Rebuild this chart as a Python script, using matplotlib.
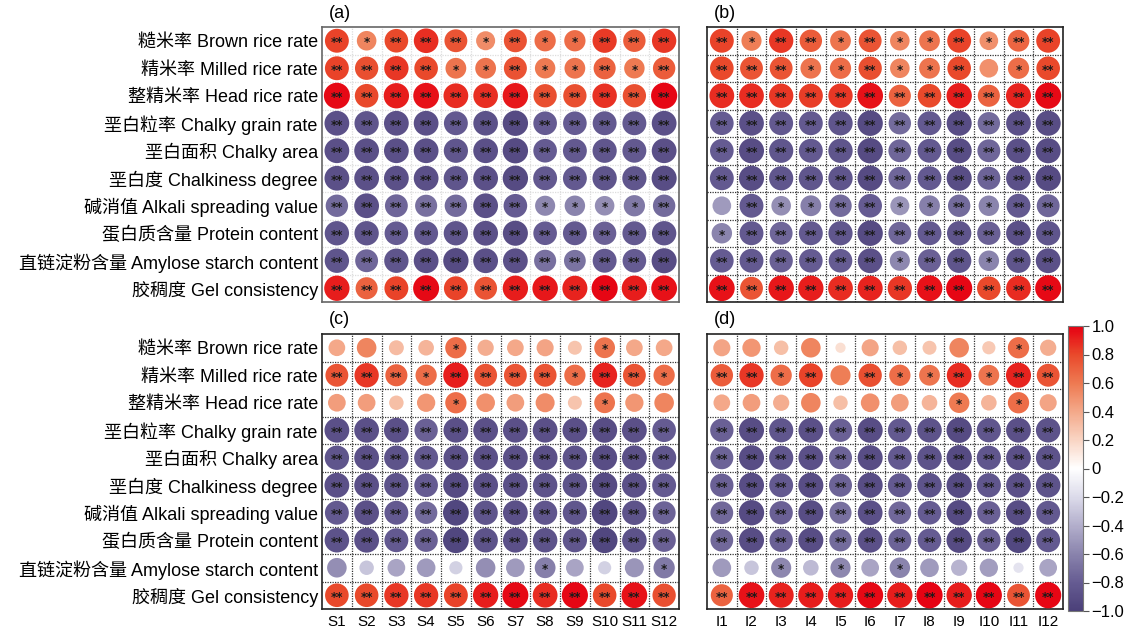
import numpy as np
import matplotlib
matplotlib.use('Agg')
import matplotlib.pyplot as plt
from matplotlib.colors import LinearSegmentedColormap
from matplotlib.cm import ScalarMappable

plt.rcParams['font.family'] = ['Liberation Sans', 'Noto Sans CJK SC', 'DejaVu Sans']

traits = ['糙米率 Brown rice rate', '精米率 Milled rice rate', '整精米率 Head rice rate',
          '垩白粒率 Chalky grain rate', '垩白面积 Chalky area', '垩白度 Chalkiness degree',
          '碱消值 Alkali spreading value', '蛋白质含量 Protein content',
          '直链淀粉含量 Amylose starch content', '胶稠度 Gel consistency']
s_labels = ['S%d' % k for k in range(1, 13)]
i_labels = ['I%d' % k for k in range(1, 13)]

# correlation coefficients
r_a = np.array([
    [0.82, 0.55, 0.80, 0.87, 0.75, 0.52, 0.76, 0.65, 0.65, 0.84, 0.72, 0.85],
    [0.82, 0.78, 0.85, 0.80, 0.62, 0.62, 0.76, 0.60, 0.62, 0.70, 0.60, 0.72],
    [0.97, 0.80, 0.92, 0.95, 0.88, 0.87, 0.93, 0.78, 0.78, 0.86, 0.78, 0.98],
    [-0.88, -0.85, -0.88, -0.88, -0.82, -0.87, -0.92, -0.80, -0.80, -0.82, -0.82, -0.88],
    [-0.88, -0.88, -0.88, -0.88, -0.84, -0.88, -0.92, -0.80, -0.82, -0.84, -0.82, -0.88],
    [-0.88, -0.88, -0.88, -0.88, -0.85, -0.88, -0.92, -0.82, -0.82, -0.85, -0.84, -0.90],
    [-0.72, -0.88, -0.75, -0.70, -0.72, -0.88, -0.80, -0.58, -0.60, -0.55, -0.65, -0.72],
    [-0.85, -0.85, -0.80, -0.82, -0.85, -0.88, -0.90, -0.80, -0.82, -0.78, -0.82, -0.85],
    [-0.85, -0.75, -0.85, -0.88, -0.92, -0.88, -0.88, -0.70, -0.68, -0.82, -0.80, -0.90],
    [0.92, 0.70, 0.82, 0.97, 0.82, 0.75, 0.92, 0.93, 0.90, 0.98, 0.92, 0.95],
])
sig_a = [
    [2, 1, 2, 2, 2, 1, 2, 1, 1, 2, 2, 2],
    [2, 2, 2, 2, 1, 1, 2, 1, 1, 2, 1, 2],
    [2] * 12, [2] * 12, [2] * 12, [2] * 12,
    [2, 2, 2, 2, 2, 2, 2, 1, 1, 1, 1, 2],
    [2] * 12, [2] * 12, [2] * 12,
]

r_b = np.array([
    [0.82, 0.58, 0.85, 0.72, 0.62, 0.75, 0.55, 0.62, 0.82, 0.50, 0.68, 0.82],
    [0.80, 0.75, 0.75, 0.62, 0.65, 0.78, 0.55, 0.62, 0.80, 0.50, 0.65, 0.80],
    [0.88, 0.88, 0.85, 0.83, 0.85, 0.95, 0.70, 0.80, 0.92, 0.70, 0.90, 0.97],
    [-0.80, -0.88, -0.82, -0.82, -0.85, -0.92, -0.72, -0.82, -0.90, -0.72, -0.88, -0.90],
    [-0.80, -0.90, -0.84, -0.82, -0.85, -0.92, -0.75, -0.82, -0.90, -0.75, -0.88, -0.90],
    [-0.82, -0.90, -0.84, -0.84, -0.85, -0.92, -0.75, -0.82, -0.90, -0.76, -0.88, -0.92],
    [-0.50, -0.82, -0.55, -0.62, -0.72, -0.80, -0.52, -0.62, -0.72, -0.60, -0.82, -0.75],
    [-0.60, -0.82, -0.75, -0.82, -0.84, -0.92, -0.75, -0.82, -0.85, -0.78, -0.88, -0.85],
    [-0.80, -0.82, -0.78, -0.80, -0.80, -0.88, -0.58, -0.78, -0.85, -0.60, -0.85, -0.88],
    [0.95, 0.75, 0.93, 0.92, 0.88, 0.90, 0.85, 0.95, 0.98, 0.80, 0.88, 0.97],
])
sig_b = [
    [2, 1, 2, 2, 1, 2, 1, 1, 2, 1, 2, 2],
    [2, 2, 2, 1, 1, 2, 1, 1, 2, 0, 1, 2],
    [2] * 12, [2] * 12, [2] * 12, [2] * 12,
    [0, 2, 1, 1, 2, 2, 1, 1, 2, 1, 2, 2],
    [1, 2, 2, 2, 2, 2, 2, 2, 2, 2, 2, 2],
    [2, 2, 2, 2, 2, 2, 1, 2, 2, 1, 2, 2],
    [2] * 12,
]

r_c = np.array([
    [0.40, 0.55, 0.32, 0.35, 0.65, 0.38, 0.40, 0.42, 0.28, 0.62, 0.40, 0.40],
    [0.75, 0.85, 0.70, 0.65, 0.92, 0.75, 0.75, 0.75, 0.65, 0.90, 0.75, 0.65],
    [0.45, 0.45, 0.30, 0.48, 0.65, 0.50, 0.45, 0.52, 0.28, 0.62, 0.48, 0.55],
    [-0.88, -0.88, -0.88, -0.78, -0.88, -0.88, -0.88, -0.88, -0.88, -0.90, -0.88, -0.80],
    [-0.85, -0.88, -0.86, -0.82, -0.88, -0.88, -0.88, -0.88, -0.86, -0.90, -0.88, -0.84],
    [-0.88, -0.88, -0.86, -0.80, -0.92, -0.88, -0.88, -0.86, -0.86, -0.92, -0.88, -0.82],
    [-0.82, -0.88, -0.82, -0.72, -0.95, -0.85, -0.88, -0.84, -0.84, -0.95, -0.86, -0.76],
    [-0.86, -0.88, -0.82, -0.78, -0.95, -0.86, -0.88, -0.86, -0.84, -0.95, -0.86, -0.78],
    [-0.55, -0.30, -0.45, -0.50, -0.25, -0.55, -0.50, -0.62, -0.45, -0.25, -0.52, -0.65],
    [0.80, 0.80, 0.85, 0.85, 0.82, 0.92, 0.97, 0.88, 0.98, 0.80, 0.95, 0.78],
])
sig_c = [
    [0, 0, 0, 0, 1, 0, 0, 0, 0, 1, 0, 0],
    [2, 2, 2, 1, 2, 2, 2, 2, 1, 2, 2, 1],
    [0, 0, 0, 0, 1, 0, 0, 0, 0, 1, 0, 0],
    [2] * 12, [2] * 12, [2] * 12, [2] * 12, [2] * 12,
    [0, 0, 0, 0, 0, 0, 0, 1, 0, 0, 0, 1],
    [2] * 12,
]

r_d = np.array([
    [0.42, 0.48, 0.30, 0.55, 0.15, 0.42, 0.30, 0.28, 0.55, 0.25, 0.65, 0.38],
    [0.72, 0.85, 0.65, 0.82, 0.58, 0.78, 0.65, 0.62, 0.88, 0.62, 0.90, 0.75],
    [0.40, 0.45, 0.38, 0.55, 0.30, 0.50, 0.45, 0.35, 0.60, 0.35, 0.65, 0.42],
    [-0.78, -0.90, -0.84, -0.88, -0.78, -0.90, -0.82, -0.86, -0.92, -0.84, -0.88, -0.86],
    [-0.76, -0.90, -0.84, -0.88, -0.76, -0.90, -0.82, -0.86, -0.92, -0.84, -0.88, -0.86],
    [-0.78, -0.90, -0.82, -0.90, -0.76, -0.90, -0.82, -0.86, -0.92, -0.84, -0.88, -0.86],
    [-0.74, -0.92, -0.78, -0.90, -0.70, -0.88, -0.74, -0.80, -0.92, -0.78, -0.90, -0.82],
    [-0.74, -0.90, -0.78, -0.90, -0.72, -0.88, -0.76, -0.80, -0.92, -0.78, -0.94, -0.82],
    [-0.50, -0.30, -0.58, -0.35, -0.58, -0.45, -0.60, -0.50, -0.38, -0.48, -0.15, -0.45],
    [0.70, 0.95, 0.90, 0.92, 0.92, 0.97, 0.92, 0.99, 0.92, 0.98, 0.75, 0.98],
])
sig_d = [
    [0, 0, 0, 0, 0, 0, 0, 0, 0, 0, 1, 0],
    [2, 2, 1, 2, 0, 2, 1, 1, 2, 1, 2, 2],
    [0, 0, 0, 0, 0, 0, 0, 0, 1, 0, 1, 0],
    [2] * 12, [2] * 12, [2] * 12, [2] * 12, [2] * 12,
    [0, 0, 1, 0, 1, 0, 1, 0, 0, 0, 0, 0],
    [2] * 12,
]

cmap = LinearSegmentedColormap.from_list('corr', [
    (0.0, '#4b4079'), (0.1, '#665c92'), (0.2, '#8a84ad'), (0.3, '#b3afcc'),
    (0.4, '#dcdbea'), (0.5, '#ffffff'), (0.6, '#f9d5c4'), (0.7, '#f4a98a'),
    (0.8, '#ee7a52'), (0.9, '#e94a2c'), (1.0, '#e60012')])

W, H = 1134, 629
fig = plt.figure(figsize=(W / 100, H / 100), dpi=100)


def panel_axes(x0, y0, x1, y1):
    return fig.add_axes([x0 / W, 1 - y1 / H, (x1 - x0) / W, (y1 - y0) / H])


def draw_panel(ax, r, sig, grid_color, frame_color, tag, xlabels=None, ylabels=None):
    n_rows, n_cols = r.shape
    ax.set_xlim(-0.5, n_cols - 0.5)
    ax.set_ylim(n_rows - 0.5, -0.5)
    bb = ax.get_window_extent()
    cell_pt = min(bb.width / n_cols, bb.height / n_rows) * 72 / fig.dpi
    cols, rows = np.meshgrid(np.arange(n_cols), np.arange(n_rows))
    sizes = (0.96 * cell_pt) ** 2 * np.abs(r)
    ax.scatter(cols.ravel(), rows.ravel(), s=sizes.ravel(), c=r.ravel(),
               cmap=cmap, vmin=-1, vmax=1, edgecolors='none', zorder=3)
    for i in range(n_rows):
        for j in range(n_cols):
            if sig[i][j]:
                ax.text(j, i + 0.08, '*' * sig[i][j], ha='center', va='center',
                        fontsize=8.5, fontweight='bold', color='#1a1a1a',
                        family='DejaVu Sans', zorder=4)
    ax.set_xticks(np.arange(n_cols) + 0.5, minor=True)
    ax.set_yticks(np.arange(n_rows) + 0.5, minor=True)
    ax.grid(which='minor', color=grid_color, linestyle=(0, (1, 1)), linewidth=0.9, zorder=1)
    ax.tick_params(which='both', length=0)
    ax.set_xticks(np.arange(n_cols))
    ax.set_yticks(np.arange(n_rows))
    if xlabels:
        ax.set_xticklabels(xlabels, fontsize=11)
        ax.tick_params(axis='x', pad=4)
    else:
        ax.set_xticklabels([])
    if ylabels:
        ax.set_yticklabels(ylabels, fontsize=13)
        ax.tick_params(axis='y', pad=3)
    else:
        ax.set_yticklabels([])
    for sp in ax.spines.values():
        sp.set_color(frame_color)
        sp.set_linewidth(1.2)
    ax.text(0.02, 1.02, tag, transform=ax.transAxes, fontsize=13,
            ha='left', va='bottom')


ax_a = panel_axes(322, 27, 679, 302)
ax_b = panel_axes(707, 27, 1063, 302)
ax_c = panel_axes(322, 334, 679, 609)
ax_d = panel_axes(707, 334, 1063, 609)

draw_panel(ax_a, r_a, sig_a, '#dddddd', '#666666', '(a)', ylabels=traits)
draw_panel(ax_b, r_b, sig_b, '#333333', '#222222', '(b)')
draw_panel(ax_c, r_c, sig_c, '#333333', '#222222', '(c)', xlabels=s_labels, ylabels=traits)
draw_panel(ax_d, r_d, sig_d, '#333333', '#222222', '(d)', xlabels=i_labels)

cax = panel_axes(1068, 326, 1083, 611)
sm = ScalarMappable(cmap=cmap, norm=plt.Normalize(-1, 1))
cb = fig.colorbar(sm, cax=cax, ticks=np.linspace(-1, 1, 11))
tick_text = ['\u22121.0', '\u22120.8', '\u22120.6', '\u22120.4', '\u22120.2', '0',
             '0.2', '0.4', '0.6', '0.8', '1.0']
cb.ax.set_yticklabels(tick_text, fontsize=12)
cb.ax.tick_params(length=4, width=0.8, color='#555555', pad=2)
cb.outline.set_edgecolor('#777777')

fig.savefig('out.png', dpi=100)
